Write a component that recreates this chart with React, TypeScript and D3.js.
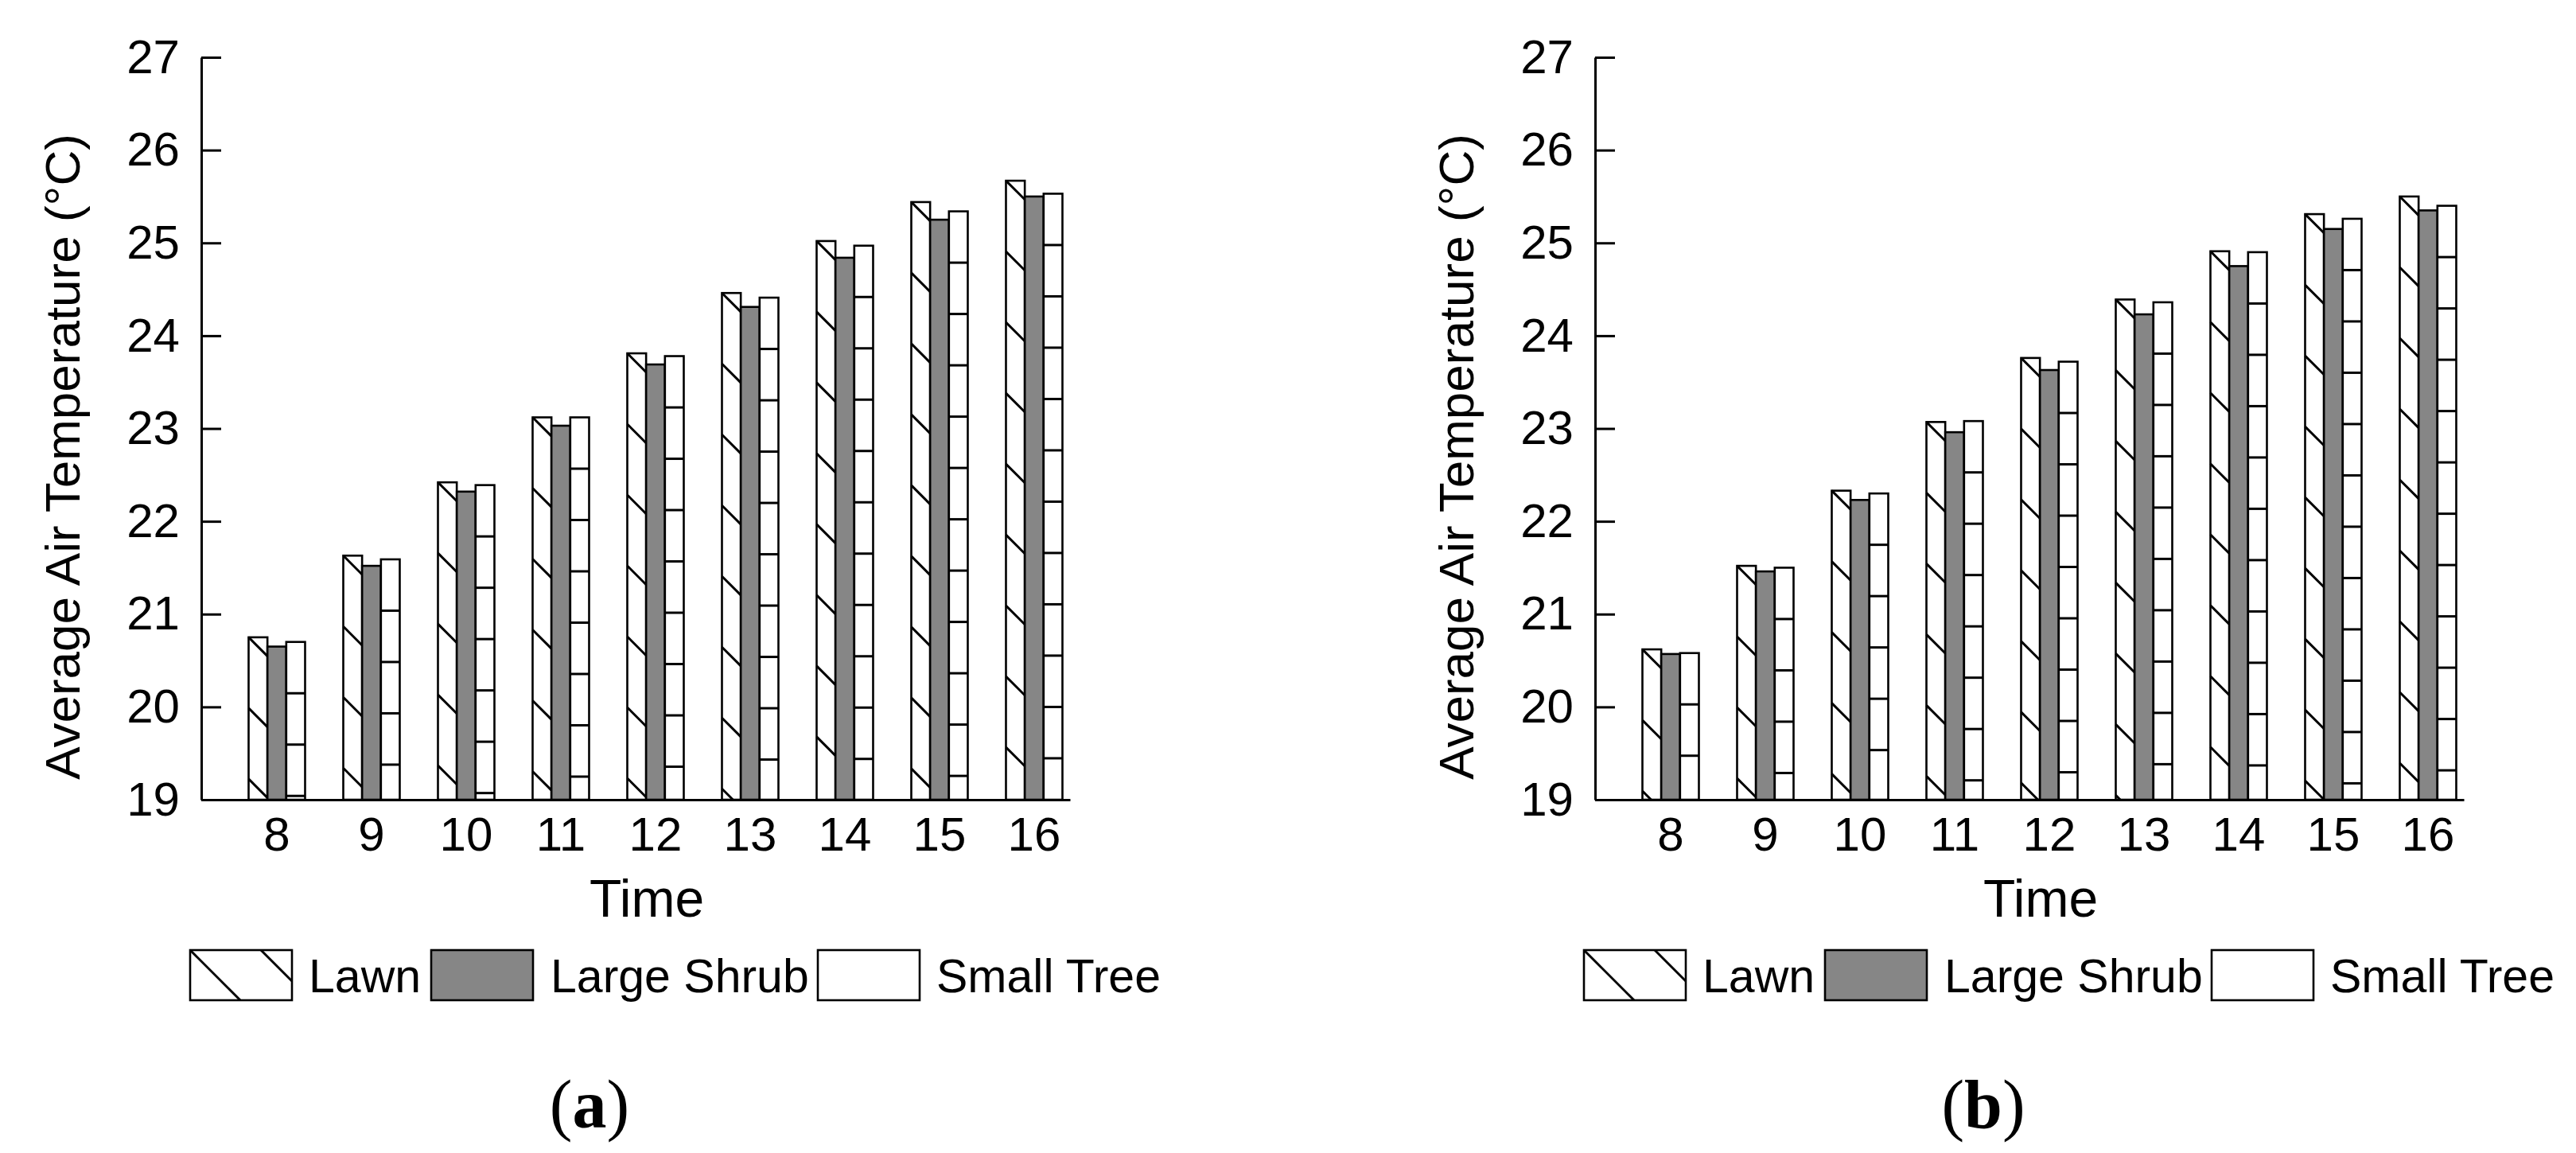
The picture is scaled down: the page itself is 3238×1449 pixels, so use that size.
import { useEffect, useRef } from 'react';
import * as d3 from 'd3';

const times = [8, 9, 10, 11, 12, 13, 14, 15, 16];
const series = ['Lawn', 'Large Shrub', 'Small Tree'];
const yTicks = [19, 20, 21, 22, 23, 24, 25, 26, 27];

// panel (a)
const lawnA = [20.75, 21.63, 22.42, 23.12, 23.81, 24.46, 25.02, 25.44, 25.67];
const shrubA = [20.65, 21.52, 22.32, 23.03, 23.69, 24.31, 24.84, 25.25, 25.5];
const treeA = [20.7, 21.59, 22.39, 23.12, 23.78, 24.41, 24.97, 25.34, 25.53];

// panel (b)
const lawnB = [20.62, 21.52, 22.33, 23.07, 23.76, 24.39, 24.91, 25.31, 25.5];
const shrubB = [20.57, 21.46, 22.23, 22.96, 23.63, 24.23, 24.75, 25.15, 25.35];
const treeB = [20.58, 21.5, 22.3, 23.08, 23.72, 24.36, 24.9, 25.26, 25.4];

const W = 3238;
const H = 1449;
const PL = 253;
const PR = 1345;
const PT = 72;
const PB = 1005;
const GRAY = '#868686';
const SANS = '"Liberation Sans", Arial, sans-serif';
const SERIF = '"Liberation Serif", "Times New Roman", serif';
const DIAG = 89;
const HSTEP = 64.5;

// 45° "\" hatch lines clipped to a rect, first one from the top-left corner
function diagLines(x0: number, y0: number, w: number, h: number) {
  const out: [number, number, number, number][] = [];
  for (let m = Math.ceil(-h / DIAG); m <= Math.floor(w / DIAG); m++) {
    const c = m * DIAG;
    const u0 = Math.max(0, c);
    const u1 = Math.min(w, h + c);
    if (u1 > u0) out.push([x0 + u0, y0 + u0 - c, x0 + u1, y0 + u1 - c]);
  }
  return out;
}

function horizLines(x0: number, y0: number, w: number, h: number) {
  const out: [number, number, number, number][] = [];
  for (let k = 1; k * HSTEP < h - 1; k++) out.push([x0, y0 + k * HSTEP, x0 + w, y0 + k * HSTEP]);
  return out;
}

function hatch(s: string, x0: number, y0: number, w: number, h: number) {
  if (s === 'Lawn') return diagLines(x0, y0, w, h);
  if (s === 'Small Tree') return horizLines(x0, y0, w, h);
  return [];
}

function Panel({ dx, label, values }: { dx: number; label: string; values: number[][] }) {
  const yAxisRef = useRef<SVGGElement>(null);
  const xAxisRef = useRef<SVGGElement>(null);

  const x = d3.scaleBand<number>().domain(times).range([PL, PR])
    .paddingInner(0.4034).paddingOuter(0.29).align(0.862);
  const xs = d3.scaleBand<string>().domain(series).range([0, x.bandwidth()]);
  const y = d3.scaleLinear().domain([19, 27]).range([PB, PT]);

  useEffect(() => {
    const ya = d3.select(yAxisRef.current!);
    ya.call(d3.axisLeft(y).tickValues(yTicks).tickSizeInner(-25).tickSizeOuter(0).tickPadding(27).tickFormat(d3.format('d')) as any);
    ya.attr('font-family', SANS).attr('font-size', 60);
    ya.select('.domain').attr('stroke', '#000').attr('stroke-width', 3);
    ya.selectAll('.tick line').attr('stroke', '#000').attr('stroke-width', 3);
    ya.selectAll('.tick text').attr('fill', '#000');

    const xa = d3.select(xAxisRef.current!);
    xa.call(d3.axisBottom(x).tickSize(0).tickPadding(21) as any);
    xa.attr('font-family', SANS).attr('font-size', 60);
    xa.select('.domain').attr('stroke', '#000').attr('stroke-width', 3);
    xa.selectAll('.tick text').attr('fill', '#000');
  }, []);

  const legendX = [239, 542, 1028];
  const legendTextX = [388, 692, 1177];

  return (
    <g transform={`translate(${dx},0)`}>
      {times.map((t, i) => (
        <g key={t}>
          {series.map((s, j) => {
            const v = values[j][i];
            const bx = (x(t) as number) + (xs(s) as number);
            const bw = xs.bandwidth();
            const by = y(v);
            const bh = y(19) - y(v);
            return (
              <g key={s}>
                <rect x={bx} y={by} width={bw} height={bh} fill={s === 'Large Shrub' ? GRAY : '#fff'} />
                {hatch(s, bx, by, bw, bh).map((l, k) => (
                  <line key={k} x1={l[0]} y1={l[1]} x2={l[2]} y2={l[3]} stroke="#000" strokeWidth={3} />
                ))}
                <rect x={bx} y={by} width={bw} height={bh} fill="none" stroke="#000" strokeWidth={2.6} />
              </g>
            );
          })}
        </g>
      ))}
      <g ref={yAxisRef} transform={`translate(${PL},0)`} />
      <g ref={xAxisRef} transform={`translate(0,${PB})`} />

      <text x={PL + 560} y={1152} fontFamily={SANS} fontSize={66} textAnchor="middle">Time</text>
      <text transform={`translate(100,574) rotate(-90)`} fontFamily={SANS} fontSize={62} textAnchor="middle">
        Average Air Temperature (°C)
      </text>

      {series.map((s, j) => (
        <g key={s}>
          <rect x={legendX[j]} y={1194} width={128} height={63} fill={s === 'Large Shrub' ? GRAY : '#fff'} />
          {hatch(s, legendX[j], 1194, 128, 63).map((l, k) => (
            <line key={k} x1={l[0]} y1={l[1]} x2={l[2]} y2={l[3]} stroke="#000" strokeWidth={3} />
          ))}
          <rect x={legendX[j]} y={1194} width={128} height={63} fill="none" stroke="#000" strokeWidth={2.6} />
          <text x={legendTextX[j]} y={1247} fontFamily={SANS} fontSize={59}>{s}</text>
        </g>
      ))}

      <text x={741} y={1417} fontFamily={SERIF} fontSize={86} textAnchor="middle">
        (<tspan fontWeight="bold">{label}</tspan>)
      </text>
    </g>
  );
}

export default function App() {
  return (
    <svg width={W} height={H} style={{ position: 'absolute', left: 0, top: 0, background: '#fff' }}>
      <rect width={W} height={H} fill="#fff" />
      <Panel dx={0} label="a" values={[lawnA, shrubA, treeA]} />
      <Panel dx={1752} label="b" values={[lawnB, shrubB, treeB]} />
    </svg>
  );
}
